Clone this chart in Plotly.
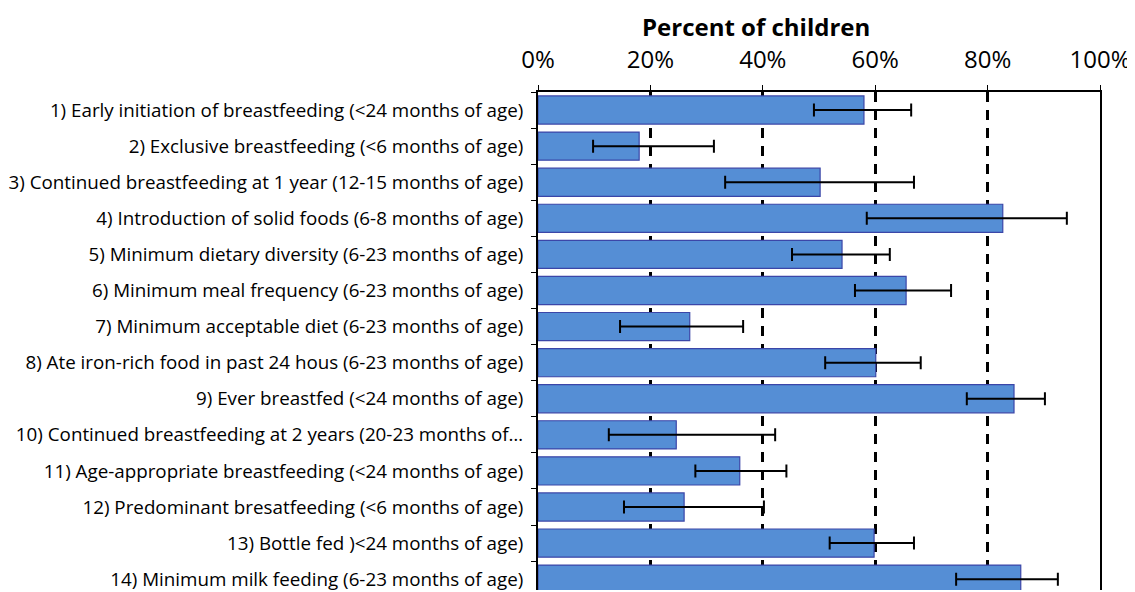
import plotly.graph_objects as go

categories = [
    "1) Early initiation of breastfeeding (<24 months of age)",
    "2) Exclusive breastfeeding (<6 months of age)",
    "3) Continued breastfeeding at 1 year (12-15 months of age)",
    "4) Introduction of solid foods (6-8 months of age)",
    "5) Minimum dietary diversity (6-23 months of age)",
    "6) Minimum meal frequency (6-23 months of age)",
    "7) Minimum acceptable diet (6-23 months of age)",
    "8) Ate iron-rich food in past 24 hous (6-23 months of age)",
    "9) Ever breastfed (<24 months of age)",
    "10) Continued breastfeeding at 2 years (20-23 months of…",
    "11) Age-appropriate breastfeeding (<24 months of age)",
    "12) Predominant bresatfeeding (<6 months of age)",
    "13) Bottle fed )<24 months of age)",
    "14) Minimum milk feeding (6-23 months of age)",
]
values = [0.580, 0.180, 0.502, 0.827, 0.541, 0.655, 0.270, 0.601, 0.847, 0.246, 0.359, 0.260, 0.598, 0.859]
ci_low = [0.491, 0.098, 0.333, 0.585, 0.452, 0.564, 0.146, 0.511, 0.763, 0.126, 0.280, 0.153, 0.519, 0.744]
ci_high = [0.664, 0.313, 0.669, 0.941, 0.626, 0.735, 0.365, 0.681, 0.902, 0.422, 0.442, 0.402, 0.669, 0.925]
x_ticks = [0, 0.2, 0.4, 0.6, 0.8, 1.0]

err_plus = [h - v for h, v in zip(ci_high, values)]
err_minus = [v - l for l, v in zip(ci_low, values)]

FONT = "Open Sans, Noto Sans, sans-serif"

fig = go.Figure()
fig.add_trace(go.Bar(
    y=categories, x=values, orientation="h",
    marker=dict(color="#558ED5", line=dict(color="#3B46A8", width=1.2)),
    width=0.78,
    error_x=dict(type="data", array=err_plus, arrayminus=err_minus,
                 color="black", thickness=2, width=6.5),
))

fig.update_layout(
    width=1127, height=584,
    margin=dict(l=530, r=35, t=84, b=0),
    plot_bgcolor="white", paper_bgcolor="white",
    showlegend=False,
    font=dict(family=FONT, color="black"),
    annotations=[dict(
        text="<b>Percent of children</b>", xref="paper", yref="paper",
        x=0.388, y=1, yshift=66, xanchor="center", yanchor="middle",
        showarrow=False, font=dict(size=24, color="black", family=FONT),
    )],
)
fig.update_xaxes(
    side="top", range=[0, 1], tickvals=x_ticks, tickformat=".0%",
    tickfont=dict(size=24), showgrid=True, gridcolor="black", gridwidth=2.5,
    griddash="10px,8px", zeroline=False,
    showline=True, linecolor="black", linewidth=2, mirror=False,
    ticks="outside", ticklen=5, tickcolor="black", tickwidth=1,
    ticklabelstandoff=7,
)
fig.update_yaxes(
    type="category", categoryorder="array", categoryarray=categories,
    range=[13.3, -0.5], tickson="boundaries",
    ticks="outside", ticklen=5, tickcolor="black", tickwidth=1,
    showline=True, linecolor="black", linewidth=2, mirror=True,
    tickfont=dict(size=18.8), showgrid=False, ticklabelstandoff=9,
)

fig.write_html("out.html")
